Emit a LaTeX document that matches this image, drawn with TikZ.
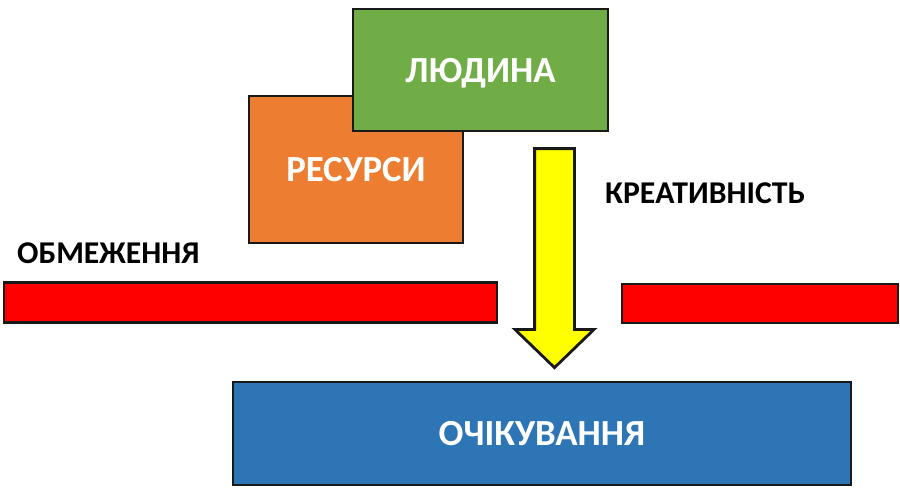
\documentclass[tikz,border=0pt]{standalone}
\usepackage{xcolor}
\usepackage{fontspec}
\setmainfont{Carlito}
\usetikzlibrary{shapes.arrows}
\definecolor{boxgreen}{HTML}{70AD47}
\definecolor{boxorange}{HTML}{ED7D31}
\definecolor{boxblue}{HTML}{2E75B6}
\definecolor{arrowyellow}{HTML}{FFFF00}
\tikzset{
    box/.style={draw=black!90,line width=2.8pt,inner sep=0pt,outer sep=0pt,text=white,text depth=0pt,font=\bfseries\fontsize{36.8}{36.8}\selectfont},
    barr/.style={draw=black!90,line width=2.8pt,fill=red,inner sep=0pt,outer sep=0pt},
    caption/.style={anchor=west,inner sep=0pt,text=black,font=\bfseries\fontsize{31.7}{31.7}\selectfont}
}

\begin{document}
\begin{tikzpicture}[x=1pt,y=-1pt]
\useasboundingbox (0,0) rectangle (900,496);
\node[box,fill=boxorange,minimum width=214pt,minimum height=147pt] (resources) at (356,169.5) {РЕСУРСИ};
\node[box,fill=boxgreen,minimum width=255pt,minimum height=122pt] (person) at (480.5,70) {ЛЮДИНА};
\node[barr,minimum width=493pt,minimum height=40pt] (limitleft) at (250.5,302.5) {};
\node[barr,minimum width=276pt,minimum height=39pt] (limitright) at (760,303.5) {};
\node[box,fill=boxblue,minimum width=618pt,minimum height=103pt] (expect) at (542,433.5) {ОЧІКУВАННЯ};
\node[draw=black!90,line width=2.8pt,fill=arrowyellow,single arrow,rotate=270,inner xsep=0pt,inner ysep=18.5pt,outer sep=0pt,
    minimum height=219pt,single arrow head extend=19.5pt,single arrow tip angle=92,single arrow head indent=0pt] (creative) at (554.5,248.5) {};
\node[caption] (creativelabel) at (605,193) {КРЕАТИВНІСТЬ};
\node[caption] (limitlabel) at (17,253) {ОБМЕЖЕННЯ};
\end{tikzpicture}
\end{document}
